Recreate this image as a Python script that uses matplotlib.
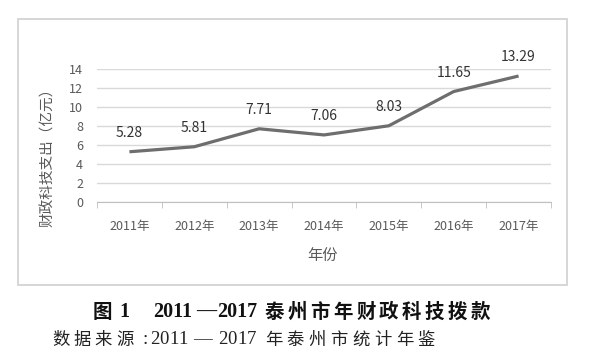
import matplotlib
matplotlib.use("Agg")
import matplotlib.pyplot as plt
from matplotlib.patches import Rectangle

plt.rcParams['font.family'] = ['Noto Sans CJK SC', 'DejaVu Sans']

years = ["2011年", "2012年", "2013年", "2014年", "2015年", "2016年", "2017年"]
values = [5.28, 5.81, 7.71, 7.06, 8.03, 11.65, 13.29]
yticks = [0, 2, 4, 6, 8, 10, 12, 14]

W, H = 600, 356
fig = plt.figure(figsize=(W/100, H/100), dpi=100)

# outer chart frame
fig.patches.append(Rectangle((18/W, 1-285/H), (567-18)/W, (285-19)/H,
                             transform=fig.transFigure, fill=False,
                             edgecolor='#d0d0d0', linewidth=1.2))

ax = fig.add_axes([97/W, 1-201.7/H, 454/W, (201.7-69.3)/H])
x = list(range(len(years)))
ax.plot(x, values, color='#6e6e6e', linewidth=2.3, solid_capstyle='butt', zorder=3)
for xi, v in zip(x, values):
    ax.annotate(f"{v:.2f}", (xi, v), xytext=(0, 13.5), textcoords='offset points',
                ha='center', va='center', fontsize=10, color='#333333')

ax.set_xlim(-0.5, len(years)-0.5)
ax.set_ylim(0, 14)
ax.set_yticks(yticks)
ax.set_yticklabels([str(t) for t in yticks], fontsize=9, color='#595959')
ax.set_xticks(x)
ax.set_xticklabels(years, fontsize=9, color='#595959')
ax.set_xticks([i-0.5 for i in range(len(years)+1)], minor=True)
ax.tick_params(axis='x', which='major', length=0, pad=13)
ax.tick_params(axis='x', which='minor', length=4, color='#bfbfbf', direction='out')
ax.tick_params(axis='y', length=0, pad=10)
ax.grid(axis='y', color='#d9d9d9', linewidth=1)
ax.set_axisbelow(True)
for s in ['top', 'right', 'left']:
    ax.spines[s].set_visible(False)
ax.spines['bottom'].set_color('#bfbfbf')

fig.text(48/W, 1-154/H, "财政科技支出（亿元）", rotation=90, ha='center', va='center',
         fontsize=10.5, color='#595959')
fig.text(323/W, 1-255/H, "年份", ha='center', va='center', fontsize=11, color='#595959')


def spaced(x0, y, s, pitch, **kw):
    for i, ch in enumerate(s):
        fig.text((x0 + i*pitch)/W, 1-y/H, ch, ha='left', va='center', **kw)


cap_cjk = dict(fontsize=14, fontweight='bold', color='#111111',
               family=['Noto Sans CJK SC', 'DejaVu Sans'])
cap_num = dict(fontsize=14.5, fontweight='bold', color='#111111',
               family=['Liberation Serif', 'DejaVu Serif'])
spaced(93, 312, "图", 22, **cap_cjk)
fig.text(119/W, 1-312/H, "1", ha='left', va='center', **cap_num)
fig.text(153/W, 1-312/H, "2011", ha='left', va='center', **cap_num)
fig.text(196/W, 1-312/H, "—", ha='left', va='center', **cap_num)
fig.text(217/W, 1-312/H, "2017", ha='left', va='center', **cap_num)
spaced(265, 312, "泰州市年财政科技拨款", 22.8, **cap_cjk)

src_cjk = dict(fontsize=12.5, color='#222222', fontweight='light',
               family=['Noto Sans CJK SC', 'DejaVu Sans'])
src_num = dict(fontsize=13.5, color='#222222',
               family=['Liberation Serif', 'DejaVu Serif'])
spaced(52, 340, "数据来源", 21.3, **src_cjk)
fig.text(143/W, 1-340/H, ":", ha='left', va='center', **src_num)
spaced(150, 340, "2011", 9.5, **src_num)
fig.text(193/W, 1-340/H, "—", ha='left', va='center', **src_num)
spaced(218, 340, "2017", 9.5, **src_num)
spaced(265, 340, "年泰州市统计年鉴", 21.8, **src_cjk)

fig.savefig("out.png", dpi=100)
